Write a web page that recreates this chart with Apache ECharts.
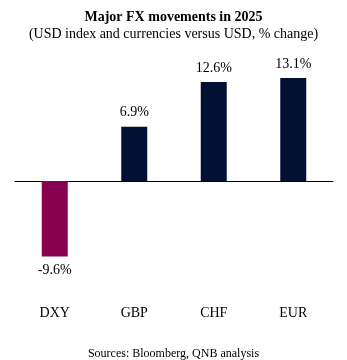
<!DOCTYPE html>
<html><head><meta charset="utf-8">
<script src="https://cdn.jsdelivr.net/npm/echarts@6/dist/echarts.min.js"></script>
<style>html,body{margin:0;padding:0;background:#fff}#c{width:347px;height:360px}</style>
</head><body><div id="c"></div>
<script>
const categories = ['DXY', 'GBP', 'CHF', 'EUR'];
const values = [-9.6, 6.9, 12.6, 13.1];
const barColors = ['#880050', '#001133', '#001133', '#001133'];
const titleText = 'Major FX movements in 2025';
const subtitleText = '(USD index and currencies versus USD, % change)';
const sourceText = 'Sources: Bloomberg, QNB analysis';

const font = '"Liberation Serif", "Times New Roman", serif';
const chart = echarts.init(document.getElementById('c'), null, {renderer: 'canvas'});
chart.setOption({
  animation: false,
  backgroundColor: '#fff',
  title: [
    {text: titleText, left: 'center', top: 5, textStyle: {fontFamily: font, fontSize: 14, fontWeight: 'bold', color: '#000'}},
    {text: subtitleText, left: 'center', top: 22, textStyle: {fontFamily: font, fontSize: 14, fontWeight: 'normal', color: '#000'}},
    {text: sourceText, left: 'center', top: 343, textStyle: {fontFamily: font, fontSize: 12, fontWeight: 'normal', color: '#000'}}
  ],
  grid: {left: 15, right: 14, top: 71, bottom: 84.7, containLabel: false},
  xAxis: [
    {type: 'category', data: categories, axisLine: {onZero: true, lineStyle: {color: '#000', width: 1}}, axisTick: {show: false}, axisLabel: {show: false}},
    {type: 'category', data: categories, position: 'bottom', axisLine: {show: false, onZero: false}, axisTick: {show: false},
     axisLabel: {margin: 31, fontFamily: font, fontSize: 14, color: '#000'}}
  ],
  yAxis: {type: 'value', min: -12, max: 14, show: false, splitLine: {show: false}},
  series: [{
    type: 'bar', xAxisIndex: 0, barWidth: 26,
    data: values.map((v, i) => ({value: v, itemStyle: {color: barColors[i]}})),
    label: {show: true, position: 'outside', distance: 7, fontFamily: font, fontSize: 14, color: '#000',
      formatter: p => p.value.toFixed(1) + '%'}
  }]
});
</script></body></html>
